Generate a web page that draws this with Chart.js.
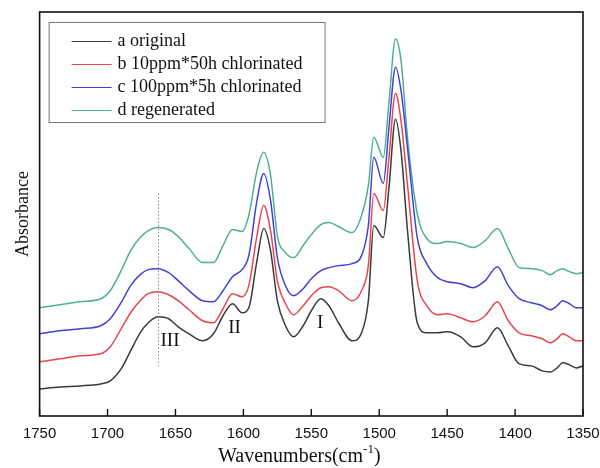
<!DOCTYPE html>
<html>
<head>
<meta charset="utf-8">
<script src="https://cdn.jsdelivr.net/npm/chart.js@4"></script>
<style>
  html, body { margin: 0; padding: 0; background: #fff; }
  #wrap { width: 600px; height: 468px; }
</style>
</head>
<body>
<div id="wrap"><canvas id="myChart" width="600" height="468"></canvas></div>
<script>
const wavenumbers = [1750, 1735, 1720, 1705, 1698, 1690, 1683, 1676, 1670, 1663,
	1655, 1648, 1640, 1630, 1622, 1615, 1608, 1601, 1596, 1590,
	1585, 1580, 1575, 1569, 1563, 1556, 1550, 1543, 1537, 1530,
	1520, 1513, 1508, 1504, 1497, 1493, 1488, 1484, 1479, 1472,
	1465, 1457, 1450, 1440, 1431, 1422, 1413, 1405, 1397, 1388,
	1380, 1374, 1369, 1365, 1360, 1355, 1350];

// absorbance, arbitrary units (curves are offset as in the figure)
const original = [27, 29, 30, 32, 35, 47, 65, 83, 93, 99,
	97, 89, 82, 75, 82, 100, 112, 103, 108, 155,
	187, 165, 115, 90, 79, 90, 105, 117, 110, 93,
	75, 83, 115, 190, 178, 225, 296, 265, 182, 93,
	83, 83, 84, 79, 69, 73, 88, 70, 52, 50,
	45, 44, 48, 53, 51, 48, 50];
const chlor10 = [54, 57, 60, 62, 69, 87, 103, 115, 122, 124,
	121, 115, 106, 95, 93, 107, 122, 119, 130, 180,
	210, 185, 135, 112, 101, 110, 120, 128, 129, 125,
	115, 125, 150, 222, 205, 255, 322, 295, 228, 135,
	110, 101, 102, 98, 94, 100, 114, 95, 83, 80,
	77, 73, 77, 82, 79, 75, 75];
const chlor100 = [82, 85, 87, 90, 97, 113, 130, 141, 146, 147,
	143, 135, 125, 115, 114, 125, 139, 146, 160, 215,
	242, 215, 158, 130, 120, 127, 137, 145, 148, 150,
	152, 160, 190, 258, 232, 285, 348, 325, 265, 178,
	152, 138, 134, 132, 128, 135, 149, 130, 117, 113,
	110, 106, 110, 115, 112, 108, 108];
const regenerated = [108, 111, 114, 117, 125, 145, 165, 178, 185, 188,
	186, 179, 167, 153, 153, 170, 186, 184, 200, 245,
	263, 240, 180, 163, 158, 170, 181, 191, 193, 189,
	183, 200, 230, 278, 258, 310, 376, 355, 275, 202,
	177, 172, 174, 172, 168, 175, 187, 167, 148, 147,
	145, 141, 145, 147, 144, 142, 143];

const seriesLabels = ["a original", "b 10ppm*50h chlorinated", "c 100ppm*5h chlorinated", "d regenerated"];
const seriesColors = ["#3a3a3a", "#e8464f", "#4242d2", "#4fae98"];
const xTicks = [1750, 1700, 1650, 1600, 1550, 1500, 1450, 1400, 1350];

// band markers
const bandLabels = ["III", "II", "I"];
const bandPos = [1654, 1606.5, 1543.5];
const bandLevel = [75, 88, 93];

const serif = "'Liberation Serif', 'Times New Roman', serif";
const sans = "'Liberation Sans', Arial, sans-serif";

const toPoints = (vals) => wavenumbers.map((w, i) => ({ x: w, y: vals[i] }));

const extras = {
	id: "extras",
	afterDatasetsDraw(chart) {
		const { ctx, chartArea: a, scales } = chart;
		const x = scales.x;
		const y = scales.y;
		ctx.save();

		// dotted line at 1663
		ctx.strokeStyle = "#888";
		ctx.lineWidth = 1;
		ctx.setLineDash([1.5, 2]);
		ctx.beginPath();
		ctx.moveTo(Math.round(x.getPixelForValue(1663)) + 0.5, y.getPixelForValue(222));
		ctx.lineTo(Math.round(x.getPixelForValue(1663)) + 0.5, y.getPixelForValue(50));
		ctx.stroke();
		ctx.setLineDash([]);

		ctx.fillStyle = "#111";
		ctx.font = "19px " + serif;
		ctx.textAlign = "center";
		ctx.textBaseline = "middle";
		bandLabels.forEach((t, i) => {
			ctx.fillText(t, x.getPixelForValue(bandPos[i]), y.getPixelForValue(bandLevel[i]));
		});

		// frame
		ctx.strokeStyle = "#111";
		ctx.lineWidth = 1.6;
		ctx.strokeRect(a.left, a.top, a.right - a.left, a.bottom - a.top);

		// inner ticks
		ctx.lineWidth = 1.4;
		xTicks.forEach((v) => {
			const px = x.getPixelForValue(v);
			ctx.beginPath();
			ctx.moveTo(px, a.bottom);
			ctx.lineTo(px, a.bottom - 7);
			ctx.stroke();
		});

		// legend
		const lx = a.left + 9, ly = a.top + 10, lw = 276, lh = 100;
		ctx.strokeStyle = "#777";
		ctx.lineWidth = 1;
		ctx.strokeRect(lx + 0.5, ly + 0.5, lw, lh);
		ctx.font = "18px " + serif;
		ctx.textAlign = "left";
		chart.data.datasets.forEach((ds, i) => {
			const cy = ly + 19 + i * 23;
			ctx.strokeStyle = ds.borderColor;
			ctx.lineWidth = 1.2;
			ctx.beginPath();
			ctx.moveTo(lx + 23, cy + 0.5);
			ctx.lineTo(lx + 63, cy + 0.5);
			ctx.stroke();
			ctx.fillStyle = "#111";
			ctx.fillText(ds.label, lx + 69, cy);
		});

		// x axis title with superscript
		ctx.font = "20px " + serif;
		ctx.textBaseline = "alphabetic";
		const main = "Wavenumbers(cm";
		const sup = "-1";
		const wMain = ctx.measureText(main).width;
		ctx.font = "13px " + serif;
		const wSup = ctx.measureText(sup).width;
		ctx.font = "20px " + serif;
		const wEnd = ctx.measureText(")").width;
		const total = wMain + wSup + wEnd;
		let tx = (a.left + a.right) / 2 - 12 - total / 2;
		const by = 462;
		ctx.fillText(main, tx, by);
		tx += wMain;
		ctx.font = "13px " + serif;
		ctx.fillText(sup, tx, by - 9);
		tx += wSup;
		ctx.font = "20px " + serif;
		ctx.fillText(")", tx, by);

		ctx.restore();
	},
};

const ctxEl = document.getElementById("myChart");
const myChart = new Chart(ctxEl, {
	type: "line",
	data: {
		datasets: [original, chlor10, chlor100, regenerated].map((vals, i) => ({
			label: seriesLabels[i],
			data: toPoints(vals),
			borderColor: seriesColors[i],
			backgroundColor: seriesColors[i],
			borderWidth: 1.5,
			pointRadius: 0,
			fill: false,
			cubicInterpolationMode: "monotone",
		})),
	},
	options: {
		responsive: false,
		animation: false,
		events: [],
		layout: { padding: { left: 8, right: 17, top: 12, bottom: 16 } },
		plugins: {
			legend: { display: false },
			tooltip: { enabled: false },
		},
		scales: {
			x: {
				type: "linear",
				reverse: true,
				min: 1350,
				max: 1750,
				afterBuildTicks: (scale) => {
					scale.ticks = xTicks.map((v) => ({ value: v }));
				},
				afterFit: (scale) => {
					scale.paddingLeft = 0;
					scale.paddingRight = 0;
				},
				grid: { display: false, drawTicks: false },
				border: { display: false },
				ticks: {
					color: "#111",
					font: { family: sans, size: 15 },
					padding: 9,
					maxRotation: 0,
					autoSkip: false,
					callback: (v) => String(v),
				},
			},
			y: {
				min: 0,
				max: 403,
				grid: { display: false, drawTicks: false },
				border: { display: false },
				ticks: { display: false },
				title: {
					display: true,
					text: "Absorbance",
					color: "#111",
					font: { family: serif, size: 18 },
					padding: { top: 4, bottom: 6 },
				},
			},
		},
	},
	plugins: [extras],
});
</script>
</body>
</html>
